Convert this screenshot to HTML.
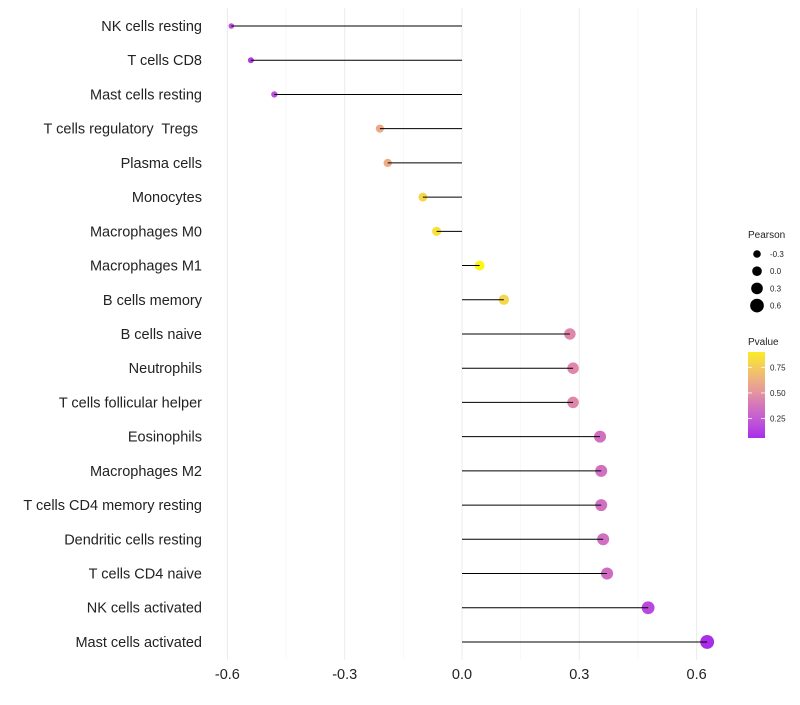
<!DOCTYPE html>
<html><head><meta charset="utf-8"><style>
body{margin:0;background:#fff;font-family:"Liberation Sans",sans-serif}
text{white-space:pre}
</style></head><body>
<svg id="chart" width="800" height="700" xmlns="http://www.w3.org/2000/svg"></svg>
<script>
const categories=["NK cells resting","T cells CD8","Mast cells resting","T cells regulatory  Tregs ","Plasma cells","Monocytes","Macrophages M0","Macrophages M1","B cells memory","B cells naive","Neutrophils","T cells follicular helper","Eosinophils","Macrophages M2","T cells CD4 memory resting","Dendritic cells resting","T cells CD4 naive","NK cells activated","Mast cells activated"];
const pearson=[-0.59,-0.54,-0.48,-0.21,-0.19,-0.10,-0.065,0.045,0.107,0.276,0.284,0.284,0.353,0.356,0.356,0.361,0.371,0.476,0.627];
const pvalue=[0.2,0.12,0.2,0.6,0.62,0.8,0.85,0.95,0.8,0.45,0.45,0.45,0.35,0.35,0.35,0.35,0.33,0.17,0.06];
const xTicks=[-0.6,-0.3,0.0,0.3,0.6];
const xTickLabels=["-0.6","-0.3","0.0","0.3","0.6"];
const legendSizes=[-0.3,0.0,0.3,0.6];
const legendSizeLabels=["-0.3","0.0","0.3","0.6"];
const legendP=[0.75,0.50,0.25];
const legendPLabels=["0.75","0.50","0.25"];

const svg=document.getElementById('chart');
const NS="http://www.w3.org/2000/svg";
const x=v=>462+v*391;
const y=i=>26+i*34.22;
const r=v=>4.8+3.4*v;
const py=p=>438-(p-0.06)*102.4;
const stops=[[0,160,32,240],[0.25,196,92,212],[0.4,215,122,182],[0.5,228,148,160],[0.65,238,180,125],[0.8,246,215,75],[1,255,255,0]];
function col(p){
  p=Math.max(0,Math.min(1,p));
  for(let k=0;k<stops.length-1;k++){
    const a=stops[k],b=stops[k+1];
    if(p<=b[0]){const t=(p-a[0])/(b[0]-a[0]);return `rgb(${[1,2,3].map(j=>Math.round(a[j]+(b[j]-a[j])*t)).join(',')})`;}
  }
  return 'rgb(255,255,0)';
}
function mk(tag,attrs,parent){const e=document.createElementNS(NS,tag);for(const k in attrs)e.setAttribute(k,attrs[k]);(parent||svg).appendChild(e);return e;}

[-0.6,-0.45,-0.3,-0.15,0,0.15,0.3,0.45,0.6].forEach((v,i)=>{
  const major=i%2===0;
  const g=mk('line',{x1:x(v),x2:x(v),y1:8,y2:660,stroke:major?'#ebebeb':'#f4f4f4','stroke-width':major?1:0.6});
  
  
});
xTicks.forEach((v,i)=>{
  const t=mk('text',{x:x(v),y:679,'text-anchor':'middle','font-size':14.5,fill:'#222'});
  t.textContent=xTickLabels[i];
  
  
});
categories.forEach((c,i)=>{
  const t=mk('text',{x:202,y:y(i)+5,'text-anchor':'end','font-size':14.5,fill:'#222'});
  t.textContent=c;
  
  
  const d=mk('circle',{cx:x(pearson[i]),cy:y(i),r:r(pearson[i]),fill:col(pvalue[i])});
  
  
  const l=mk('line',{x1:x(0),x2:x(pearson[i]),y1:y(i),y2:y(i),stroke:'#000','stroke-width':1});
  
  
});
const lt=mk('text',{x:748,y:238,'font-size':10,fill:'#222'});lt.textContent='Pearson';


legendSizes.forEach((v,i)=>{
  const cy=254+i*17.2;
  const c=mk('circle',{cx:757,cy:cy,r:r(v),fill:'#000'});
  
  
  const t=mk('text',{x:770,y:cy+3,'font-size':8,fill:'#222'});t.textContent=legendSizeLabels[i];
  
  
});
const pt=mk('text',{x:748,y:345,'font-size':10,fill:'#222'});pt.textContent='Pvalue';


const defs=mk('defs',{});
const gr=mk('linearGradient',{id:'pg',x1:0,y1:1,x2:0,y2:0},defs);
[0,0.1,0.2,0.3,0.4,0.5,0.6,0.7,0.8,0.9,1].forEach(f=>{const p=0.06+f*(0.90-0.06);mk('stop',{offset:f,'stop-color':col(p)},gr);});
const bar=mk('rect',{x:748,y:352,width:17,height:86,fill:'url(#pg)'});


legendP.forEach((p,i)=>{
  mk('line',{x1:748,x2:752,y1:py(p),y2:py(p),stroke:'#fff','stroke-width':0.8});
  mk('line',{x1:761,x2:765,y1:py(p),y2:py(p),stroke:'#fff','stroke-width':0.8});
  const t=mk('text',{x:770,y:py(p)+3,'font-size':8,fill:'#222'});t.textContent=legendPLabels[i];
  
  
});
</script>
</body></html>
